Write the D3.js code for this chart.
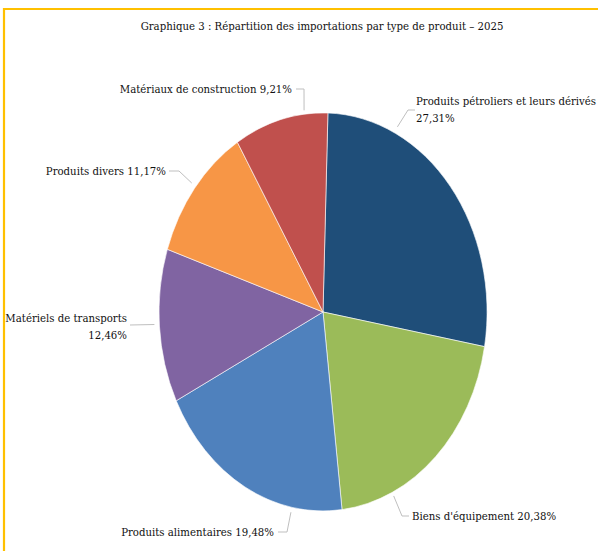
<!DOCTYPE html>
<html>
<head>
<meta charset="utf-8">
<script src="https://cdn.jsdelivr.net/npm/d3@7"></script>
<style>
  html, body { margin: 0; padding: 0; background: #fff; }
  svg { display: block; }
  text { font-family: "DejaVu Serif", serif; font-stretch: condensed; }
</style>
</head>
<body>
<div id="chart"></div>
<script>
// data
const categories = [
  "Produits pétroliers et leurs dérivés",
  "Biens d'équipement",
  "Produits alimentaires",
  "Matériels de transports",
  "Produits divers",
  "Matériaux de construction"
];
const shares = [27.31, 20.38, 19.48, 12.46, 11.17, 9.21];
const colors = ["#1F4E79", "#9BBB59", "#4F81BD", "#8064A2", "#F79646", "#C0504D"];
const title = "Graphique 3 : Répartition des importations par type de produit \u2013 2025";

// label layout: text anchor, lines, leader elbow and where it meets the pie (angle in deg, radius factor)
const labelLayout = [
  { x: 416, y: 105, anchor: "start", lines: 2, elbow: [415, 110, 408, 110], angle: 26, r: 1.035 },
  { x: 412, y: 520, anchor: "start", lines: 1, elbow: [409, 516, 402, 516], angle: 155, r: 1.02 },
  { x: 274, y: 536, anchor: "end", lines: 1, elbow: [278, 532, 287, 532], angle: 191, r: 1.025 },
  { x: 127, y: 322, anchor: "end", lines: 2, elbow: [130, 325, 130, 325], angle: 266.5, r: 1.03 },
  { x: 166, y: 175, anchor: "end", lines: 1, elbow: [169, 171, 179, 171], angle: -51, r: 1.03 },
  { x: 292, y: 93, anchor: "end", lines: 1, elbow: [296, 89, 304, 89], angle: -6.5, r: 1.02 }
];

const width = 598, height = 551;
const cx = 323, cy = 312, rx = 164, ry = 199;
const fontSize = 11.3;
const fmt = (v) => v.toFixed(2).replace(".", ",") + "%";

const svg = d3.select("#chart").append("svg").attr("width", width).attr("height", height);

// frame
svg.append("path")
  .attr("d", `M4,${height} L4,9 L${width},9`)
  .attr("fill", "none")
  .attr("stroke", "#FFC000")
  .attr("stroke-width", 2.2);

svg.append("text")
  .attr("x", 322)
  .attr("y", 30)
  .attr("text-anchor", "middle")
  .attr("font-size", fontSize)
  .attr("fill", "#111")
  .text(title);

const offset = 1.7 * Math.PI / 180;
const pie = d3.pie().sort(null).startAngle(offset).endAngle(2 * Math.PI + offset);
const arcs = pie(shares);
const arc = d3.arc().innerRadius(0).outerRadius(1);

const g = svg.append("g").attr("transform", `translate(${cx},${cy}) scale(${rx},${ry})`);
g.selectAll("path")
  .data(arcs)
  .enter()
  .append("path")
  .attr("d", arc)
  .attr("fill", (d, i) => colors[i])
  .attr("stroke", "#fff")
  .attr("stroke-width", 0.6)
  .attr("vector-effect", "non-scaling-stroke");

// edge point of ellipse
const edge = (deg, r) => {
  const a = deg * Math.PI / 180;
  return [cx + Math.sin(a) * rx * r, cy - Math.cos(a) * ry * r];
};

const labels = svg.append("g");
labelLayout.forEach((l, i) => {
  const p = edge(l.angle, l.r);
  labels.append("polyline")
    .attr("points", [[l.elbow[0], l.elbow[1]], [l.elbow[2], l.elbow[3]], p].map((q) => q.join(",")).join(" "))
    .attr("fill", "none")
    .attr("stroke", "#BFBFBF")
    .attr("stroke-width", 1);
  const t = labels.append("text")
    .attr("x", l.x)
    .attr("y", l.y)
    .attr("text-anchor", l.anchor)
    .attr("font-size", fontSize)
    .attr("fill", "#111");
  if (l.lines === 2) {
    t.append("tspan").attr("x", l.x).text(categories[i]);
    t.append("tspan").attr("x", l.x).attr("dy", 16.5).text(fmt(shares[i]));
  } else {
    t.text(`${categories[i]} ${fmt(shares[i])}`);
  }
});
</script>
</body>
</html>
